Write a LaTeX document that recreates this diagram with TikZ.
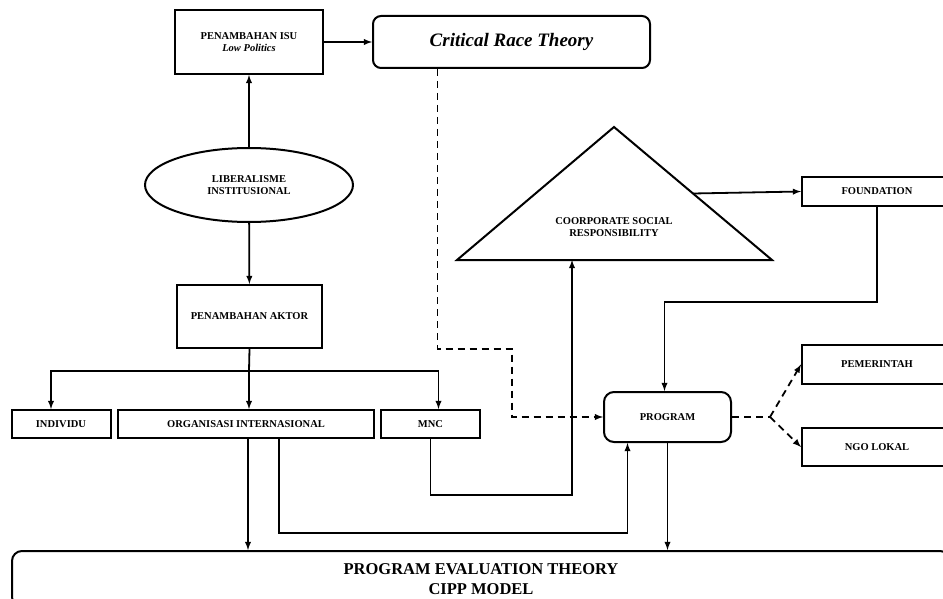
\documentclass[tikz,border=0pt]{standalone}
\usepackage{fontspec}
\setmainfont{Liberation Serif}
\usepackage{tikz}
\usetikzlibrary{calc,shapes.geometric,arrows}

\begin{document}
\begin{tikzpicture}[x=1pt,y=-1pt,>=latex,
    every node/.style={font=\bfseries\fontsize{10.5}{12.5}\selectfont,align=center,inner sep=0pt},
    box/.style={draw,line width=2pt,rectangle},
    rbox/.style={box,rounded corners=8pt},
    link/.style={line width=1.8pt,->},
    dlink/.style={link,dashed,dash pattern=on 7pt off 5pt}]
  \useasboundingbox (0,0) rectangle (943,599);
  \clip (0,0) rectangle (943,599);

  \node[box,minimum width=148pt,minimum height=64pt] (isu) at (249,42)  {PENAMBAHAN ISU\\\itshape Low Politics};
  \node[rbox,minimum width=277pt,minimum height=52pt,font=\bfseries\itshape\fontsize{19}{22}\selectfont] (crt) at (511.5,42) {Critical Race Theory};
  \node[draw,line width=2pt,ellipse,minimum width=208pt,minimum height=74pt] (lib) at (249,185) {LIBERALISME\\INSTITUSIONAL};
  \node[box,minimum width=145pt,minimum height=63pt] (aktor) at (249.5,316.5) {PENAMBAHAN AKTOR};
  \node[box,minimum width=99pt,minimum height=28pt]  (indiv) at (61,424)    {INDIVIDU};
  \node[box,minimum width=256pt,minimum height=28pt] (org)   at (246,424)   {ORGANISASI INTERNASIONAL};
  \node[box,minimum width=99pt,minimum height=28pt]  (mnc)   at (430.5,424) {MNC};

  % segitiga CSR
  \coordinate (csrT) at (614,127);
  \coordinate (csrL) at (457,260);
  \coordinate (csrR) at (772,260);
  \coordinate (csrB) at (572,260);
  \draw[line width=2pt,line join=miter] (csrT) -- (csrR) -- (csrL) -- cycle;
  \node (csr) at (614,227) {COORPORATE SOCIAL\\RESPONSIBILITY};

  \node[box,minimum width=150pt,minimum height=29pt] (found) at (877,191.5) {FOUNDATION};
  \node[rbox,rounded corners=10pt,minimum width=127pt,minimum height=50pt] (prog) at (667.5,417) {PROGRAM};
  \node[box,minimum width=150pt,minimum height=39pt] (pem) at (877,364.5) {PEMERINTAH};
  \node[box,minimum width=150pt,minimum height=38pt] (ngo) at (877,447)   {NGO LOKAL};
  \node[rbox,rounded corners=10pt,minimum width=938pt,minimum height=56pt,font=\bfseries\fontsize{16.5}{19.5}\selectfont] (pet) at (481,579) {PROGRAM EVALUATION THEORY\\CIPP MODEL};

  \coordinate (split) at (249,371);
  \coordinate (fork)  at (770,417);
  \coordinate (d2)    at (512,417);

  \draw[link] (lib) -- (isu);
  \draw[link] (isu) -- (crt);
  \draw[link] (lib) -- (aktor);
  \draw[line width=1.8pt] (aktor.south) -- (split);
  \draw[link] (split) -| ([xshift=-10pt]indiv.north);
  \draw[link] (split) -- (split |- org.north);
  \draw[link] (split) -| ([xshift=8pt]mnc.north);

  \draw[dlink] ([xshift=-74pt]crt.south) -- ++(0,280) -| (d2) -- (prog.west);
  \draw[link] (mnc.south) -- ++(0,56) -| (csrB);
  \draw[link] ($(csrT)!.5!(csrR)$) -- (found.west);
  \draw[link] (found.south) -- ++(0,95) -| ([xshift=-3pt]prog.north);
  \draw[link] ([xshift=2pt]org.south) -- ([xshift=2pt]org.south |- pet.north);
  \draw[link] ([xshift=33pt]org.south) -- ++(0,94) -| ([xshift=-40pt]prog.south);
  \draw[link] (prog.south) -- (prog.south |- pet.north);

  \draw[dashed,dash pattern=on 7pt off 5pt,line width=1.8pt] (prog.east) -- (fork);
  \draw[dlink] (fork) -- (pem.west);
  \draw[dlink] (fork) -- (ngo.west);
\end{tikzpicture}
\end{document}
